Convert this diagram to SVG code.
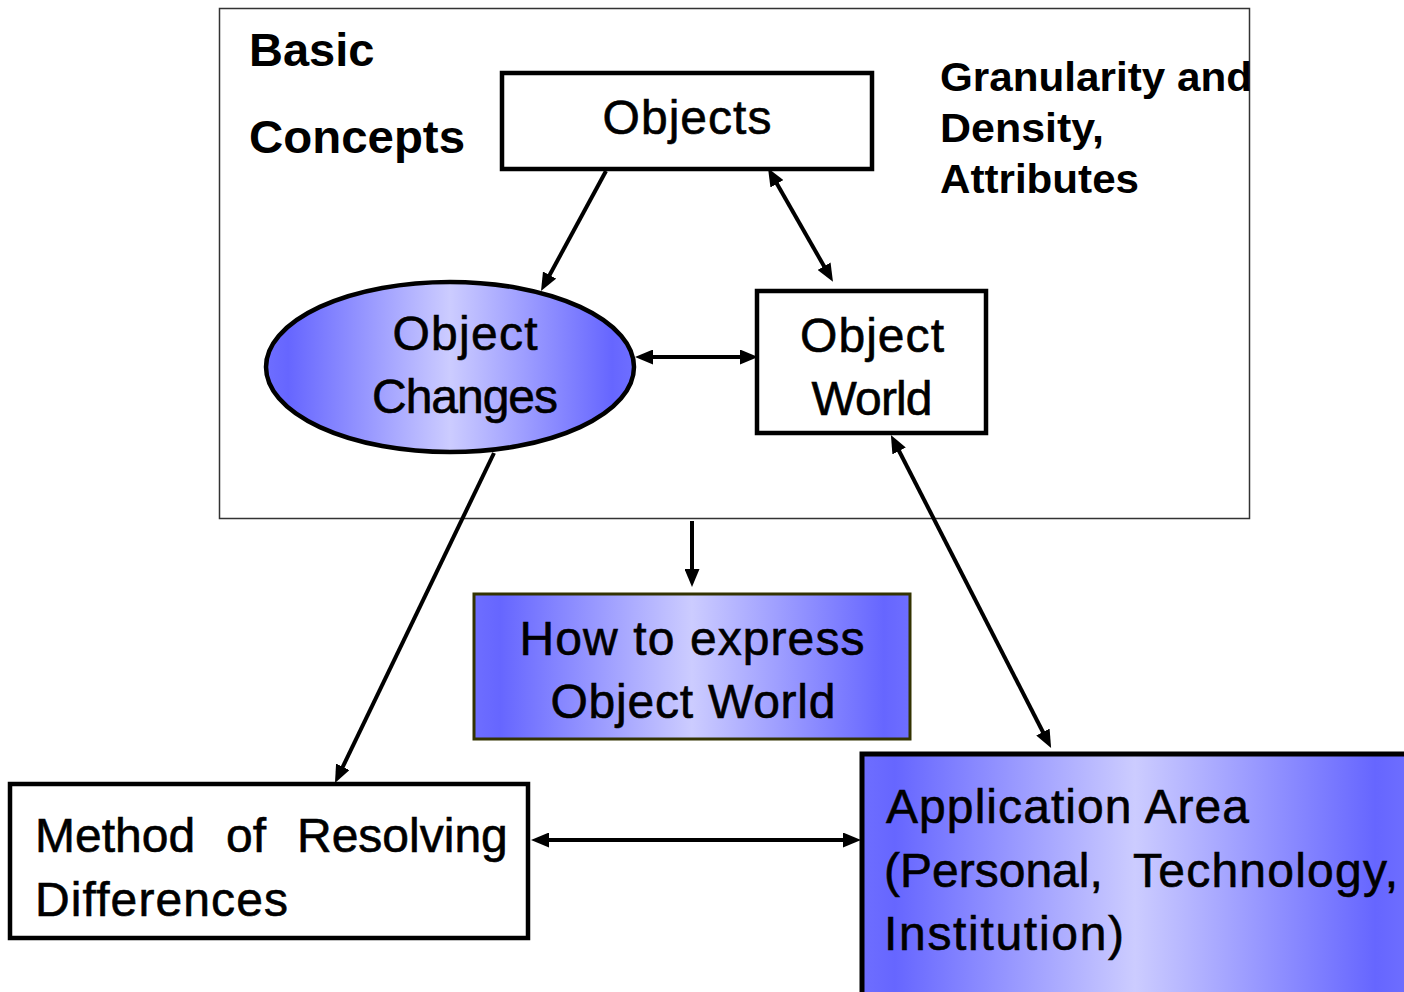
<svg xmlns="http://www.w3.org/2000/svg" width="1404" height="992" viewBox="0 0 1404 992">
  <style>
    .frame { fill: none; stroke: #333; stroke-width: 1.5; }
    .box { fill: #fff; stroke: #000; stroke-width: 4.5; }
    .label { font-family: "Liberation Sans", Arial, sans-serif; font-size: 48px; fill: #000; stroke: #000; stroke-width: 0.6; }
    .bold { font-family: "Liberation Sans", Arial, sans-serif; font-weight: bold; fill: #000; }
    .link { fill: none; stroke: #000; stroke-width: 4; }
  </style>
  <defs>
    <linearGradient id="blueBand" x1="0" y1="0" x2="1" y2="0">
      <stop offset="0" stop-color="#6e6eff"/>
      <stop offset="0.06" stop-color="#6666ff"/>
      <stop offset="0.5" stop-color="#ccccff"/>
      <stop offset="0.94" stop-color="#6666ff"/>
      <stop offset="1" stop-color="#6e6eff"/>
    </linearGradient>
    <marker id="head" markerUnits="userSpaceOnUse" markerWidth="18" markerHeight="15" viewBox="0 0 18 15" refX="9" refY="7.5" orient="auto-start-reverse">
      <path d="M0,0 L18,7.5 L0,15 z" fill="#000"/>
    </marker>
  </defs>

  <!-- outer frame of the basic concepts -->
  <rect class="frame" x="219.5" y="8.5" width="1030" height="510"/>
  <text class="bold" font-size="47" x="249" y="66">Basic</text>
  <text class="bold" font-size="47" x="249" y="153" textLength="216" lengthAdjust="spacingAndGlyphs">Concepts</text>
  <text class="bold" font-size="41" x="940" y="91" textLength="312" lengthAdjust="spacingAndGlyphs">Granularity and</text>
  <text class="bold" font-size="41" x="940" y="142" textLength="164" lengthAdjust="spacingAndGlyphs">Density,</text>
  <text class="bold" font-size="41" x="940" y="193" textLength="199" lengthAdjust="spacingAndGlyphs">Attributes</text>

  <g id="objects">
    <rect class="box" x="502" y="73" width="370" height="96"/>
    <text class="label" x="687" y="134" text-anchor="middle" textLength="169" lengthAdjust="spacing">Objects</text>
  </g>

  <g id="object-changes">
    <ellipse cx="450" cy="367" rx="184" ry="85" fill="url(#blueBand)" stroke="#000" stroke-width="4.5"/>
    <text class="label" x="465" y="350" text-anchor="middle" textLength="145" lengthAdjust="spacing">Object</text>
    <text class="label" x="465" y="413" text-anchor="middle" textLength="186" lengthAdjust="spacing">Changes</text>
  </g>

  <g id="object-world">
    <rect class="box" x="757" y="291" width="229" height="142"/>
    <text class="label" x="872" y="352" text-anchor="middle" textLength="144" lengthAdjust="spacing">Object</text>
    <text class="label" x="872" y="415" text-anchor="middle" textLength="121" lengthAdjust="spacing">World</text>
  </g>

  <g id="how-to-express">
    <rect x="474" y="594" width="436" height="145" fill="url(#blueBand)" stroke="#333300" stroke-width="3"/>
    <text class="label" x="692" y="655" text-anchor="middle" textLength="345" lengthAdjust="spacing">How to express</text>
    <text class="label" x="693" y="718" text-anchor="middle" textLength="285" lengthAdjust="spacing">Object World</text>
  </g>

  <g id="method">
    <rect class="box" x="10" y="784" width="518" height="154"/>
    <text class="label" y="852"><tspan x="35">Method</tspan><tspan x="226">of</tspan><tspan x="297">Resolving</tspan></text>
    <text class="label" x="35" y="916" textLength="253" lengthAdjust="spacing">Differences</text>
  </g>

  <g id="application-area">
    <rect x="862" y="754" width="546" height="260" fill="url(#blueBand)" stroke="#000" stroke-width="5"/>
    <text class="label" x="886" y="823" textLength="363" lengthAdjust="spacing">Application Area</text>
    <text class="label" y="887"><tspan x="884">(Personal,</tspan><tspan x="1133" textLength="265" lengthAdjust="spacing">Technology,</tspan></text>
    <text class="label" x="884" y="950" textLength="240" lengthAdjust="spacing">Institution)</text>
  </g>

  <g id="connectors">
    <line class="link" x1="606" y1="171" x2="545.3" y2="283" marker-end="url(#head)"/>
    <line class="link" x1="772.5" y1="176" x2="828.5" y2="274" marker-start="url(#head)" marker-end="url(#head)"/>
    <line class="link" x1="644" y1="357" x2="749" y2="357" marker-start="url(#head)" marker-end="url(#head)"/>
    <line class="link" x1="692" y1="521" x2="692" y2="578" marker-end="url(#head)"/>
    <line class="link" x1="494" y1="453" x2="338.9" y2="774.9" marker-end="url(#head)"/>
    <line class="link" x1="895" y1="443" x2="1047" y2="740" marker-start="url(#head)" marker-end="url(#head)"/>
    <line class="link" x1="540" y1="840" x2="852" y2="840" marker-start="url(#head)" marker-end="url(#head)"/>
  </g>
</svg>
